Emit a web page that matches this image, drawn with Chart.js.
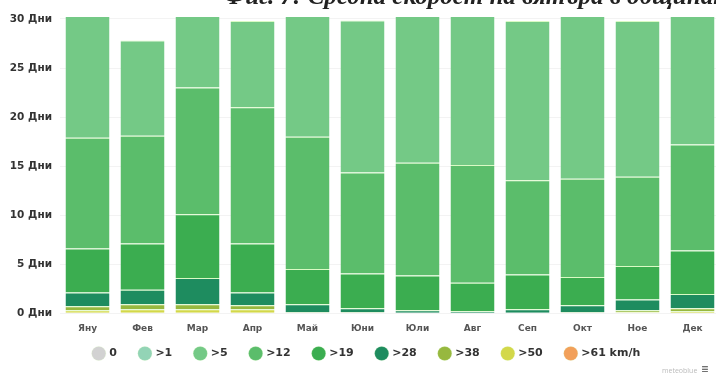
<!DOCTYPE html>
<html>
<head>
<meta charset="utf-8">
<script src="https://cdn.jsdelivr.net/npm/chart.js@4"></script>
<style>
    html, body { margin: 0; padding: 0; background: #fff; overflow: hidden; }
    #wrap { position: relative; width: 720px; height: 374px; }
    #title {
        position: absolute; left: 224px; top: -17px; white-space: nowrap;
        font: italic bold 25px/25px "Liberation Serif", "DejaVu Serif", serif; color: #222;
    }
    #logo { position: absolute; left: 662px; top: 360px; font: 7px "Open Sans", sans-serif; color: #bbb; }
    #logo b { color: #444; font-size: 12px; margin-left: 4px; }
</style>
</head>
<body>
<div id="wrap">
    <canvas id="chart" width="720" height="374"></canvas>
    <div id="title">Фиг. 7: Средна скорост на вятъра в общината</div>
    <div id="logo">meteoblue<b>≡</b></div>
</div>
<script>
const months = ['Яну', 'Фев', 'Мар', 'Апр', 'Май', 'Юни', 'Юли', 'Авг', 'Сеп', 'Окт', 'Ное', 'Дек'];
const yTicks = [0, 5, 10, 15, 20, 25, 30];

// days per month in each wind speed class
const calm = [0, 0, 0, 0, 0, 0, 0, 0, 0, 0, 0, 0];
const over1 = [0, 0, 0, 0, 0, 0, 0, 0, 0, 0, 0, 0];
const over5 = [13.1, 9.7, 8.0, 8.8, 13.0, 15.5, 15.65, 15.9, 16.25, 17.3, 15.9, 13.8];
const over12 = [11.3, 11.0, 12.9, 13.9, 13.5, 10.3, 11.5, 12.0, 9.6, 10.0, 9.1, 10.8];
const over19 = [4.5, 4.7, 6.5, 5.0, 3.6, 3.55, 3.55, 2.9, 3.55, 2.9, 3.4, 4.45];
const over28 = [1.4, 1.5, 2.7, 1.3, 0.8, 0.4, 0.3, 0.2, 0.4, 0.7, 1.1, 1.45];
const over38 = [0.4, 0.5, 0.5, 0.4, 0.1, 0.1, 0, 0, 0, 0.1, 0.2, 0.3];
const over50 = [0.3, 0.4, 0.4, 0.4, 0, 0, 0, 0, 0, 0, 0.1, 0.2];
const over61 = [0, 0, 0, 0, 0, 0, 0, 0, 0, 0, 0, 0];

function ds(label, data, color) {
    return {
        label: label,
        data: data,
        backgroundColor: color,
        borderColor: 'rgba(214,250,190,0.9)',
        borderWidth: {top: 1, left: 0, right: 0, bottom: 0},
        borderSkipped: false
    };
}

// bottom of the stack first, legend is shown reversed
const datasets = [
    ds('>61 km/h', over61, '#f2a05a'),
    ds('>50', over50, '#d3d84a'),
    ds('>38', over38, '#97b83f'),
    ds('>28', over28, '#1e8c5f'),
    ds('>19', over19, '#3bad50'),
    ds('>12', over12, '#5bbd6b'),
    ds('>5', over5, '#74c986'),
    ds('>1', over1, '#93d4b6'),
    ds('0', calm, '#d2d2d2')
];

// keep the legend close under the axis labels
const legendFit = {
    id: 'legendFit',
    beforeInit(chart) {
        const fit = chart.legend.fit;
        chart.legend.fit = function() {
            fit.call(this);
            this.height = 30;
        };
    },
    afterLayout(chart) {
        chart.legend.top -= 19;
        chart.legend.left += 7;
        chart.legend.right += 7;
    }
};

const axisFont = {family: '"DejaVu Sans", sans-serif', size: 9, weight: 'bold'};

new Chart(document.getElementById('chart'), {
    type: 'bar',
    data: {labels: months, datasets: datasets},
    plugins: [legendFit],
    options: {
        responsive: false,
        animation: false,
        events: [],
        layout: {padding: {top: 17, right: 0, left: 0, bottom: 0}},
        datasets: {bar: {barPercentage: 1, categoryPercentage: 0.8}},
        scales: {
            x: {
                stacked: true,
                grid: {display: false, drawTicks: false},
                border: {display: false},
                ticks: {color: '#555', font: axisFont, padding: 10}
            },
            y: {
                stacked: true,
                min: 0,
                max: 30.2,
                afterBuildTicks: function(scale) {
                    scale.ticks = yTicks.map(v => ({value: v}));
                },
                afterFit: function(scale) {
                    scale.width = 60;
                },
                grid: {color: '#f3f3f3', drawTicks: false},
                border: {display: false},
                ticks: {
                    color: '#333',
                    font: {family: '"DejaVu Sans", sans-serif', size: 10.5, weight: 'bold'},
                    padding: 8,
                    callback: function(val) {
                        return val + ' Дни';
                    }
                }
            }
        },
        plugins: {
            tooltip: {enabled: false},
            legend: {
                position: 'bottom',
                reverse: true,
                labels: {
                    usePointStyle: true,
                    pointStyle: 'circle',
                    boxWidth: 10,
                    boxHeight: 10,
                    padding: 23,
                    color: '#333',
                    font: {family: '"DejaVu Sans", sans-serif', size: 11, weight: 'bold'}
                }
            }
        }
    }
});
</script>
</body>
</html>
